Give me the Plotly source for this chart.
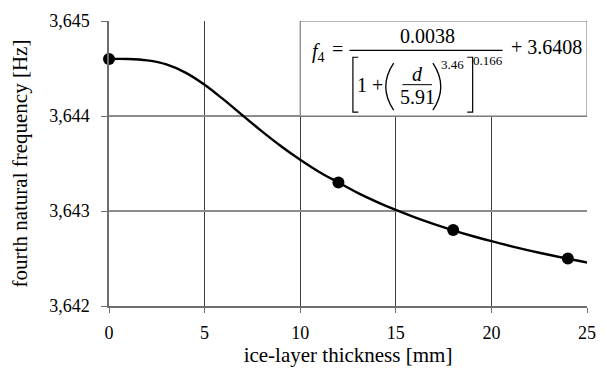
import plotly.graph_objects as go

# measured points
pt_x = [0, 12, 18, 24]
pt_y = [3.6446, 3.6433, 3.6428, 3.6425]

# fitted curve
cv_x = [0, 1, 2, 3, 4, 5, 6, 7, 8, 9, 10, 11, 12, 13, 14, 15, 16, 17, 18, 19, 20, 21, 22, 23, 24, 25]
cv_y = [3.64460, 3.64460, 3.644585, 3.644543, 3.644457, 3.644329, 3.644172, 3.644004, 3.643838,
        3.643682, 3.64354, 3.643411, 3.64330, 3.643191, 3.643097, 3.643011, 3.642933, 3.642862,
        3.642797, 3.642737, 3.642682, 3.642631, 3.642583, 3.642539, 3.642497, 3.642458]

x_ticks = [0, 5, 10, 15, 20, 25]
y_ticks = [3.642, 3.643, 3.644, 3.645]

W, H = 607, 371
L, R, T, B = 109, 11, 15, 65
PW, PH = W - L - R, H - T - B

def px(x, y):
    return (x - L) / PW, (H - B - y) / PH

FONT = "Liberation Serif"
XGRID = "#3c3c3c"
YGRID = "#8c8c8c"
AX = "#6e6e6e"

fig = go.Figure()
fig.add_trace(go.Scatter(x=cv_x, y=cv_y, mode="lines", line=dict(color="black", width=2.4, shape="spline"),
                         hoverinfo="skip", showlegend=False))
fig.add_trace(go.Scatter(x=pt_x, y=pt_y, mode="markers", marker=dict(color="black", size=12),
                         showlegend=False, cliponaxis=False))

shapes = []
# formula box
shapes.append(dict(type="rect", xref="x", yref="y", x0=10, x1=25, y0=3.644, y1=3.645,
                   fillcolor="white", line=dict(color=AX, width=1), layer="above"))

def line(xa, ya, xb, yb, w=1.2):
    a = px(xa, ya); b = px(xb, yb)
    shapes.append(dict(type="line", xref="paper", yref="paper", x0=a[0], y0=a[1], x1=b[0], y1=b[1],
                       line=dict(color="black", width=w), layer="above"))

def path(pts, w=1.2):
    s = ""
    for cmd, xx, yy in pts:
        p = px(xx, yy)
        s += f"{cmd}{p[0]},{p[1]} "
    shapes.append(dict(type="path", xref="paper", yref="paper", path=s.strip(),
                       line=dict(color="black", width=w), layer="above"))

# main fraction bar
line(354, 45, 510, 45, 1.1)
# small fraction bar
line(408, 80, 438, 80, 1.0)
# left bracket
path([("M", 363, 52), ("L", 357.5, 52), ("L", 357.5, 108), ("L", 363, 108)])
# right bracket
path([("M", 474, 52), ("L", 479.5, 52), ("L", 479.5, 108), ("L", 474, 108)])

# parentheses as curves
def paren(x_end, x_mid, y0, y1):
    p0 = px(x_end, y0); pm = px(x_mid, (y0 + y1) / 2); p1 = px(x_end, y1)
    shapes.append(dict(type="path", xref="paper", yref="paper",
                       path=f"M{p0[0]},{p0[1]} Q{2*pm[0]-(p0[0]+p1[0])/2},{pm[1]} {p1[0]},{p1[1]}",
                       line=dict(color="black", width=1.3), layer="above"))
paren(399, 391, 58, 106)
paren(439, 447, 58, 106)

ann = []
def text(t, x, y, size=20, xanchor="center"):
    p = px(x, y)
    ann.append(dict(text=t, x=p[0], y=p[1], xref="paper", yref="paper", showarrow=False,
                    xanchor=xanchor, yanchor="middle", font=dict(family=FONT, size=size, color="black")))

text("<i>f</i><sub>4</sub>", 314, 47, 20, "left")
text("=", 342, 44, 20)
text("0.0038", 434, 30, 20)
text("1 +", 375, 80, 20)
text("<i>d</i>", 423, 69, 20)
text("5.91", 423, 93, 20)
text("3.46", 459, 59, 13)
text("0.166", 495, 55, 13)
text("+ 3.6408", 555, 42, 20)

fig.update_layout(
    width=W, height=H, margin=dict(l=L, r=R, t=T, b=B),
    paper_bgcolor="white", plot_bgcolor="white",
    separators=",.",
    shapes=shapes, annotations=ann,
    font=dict(family=FONT, color="black"),
    xaxis=dict(range=[0, 25], tickvals=x_ticks, showgrid=True, gridcolor=XGRID, gridwidth=1,
               showline=True, linecolor=AX, linewidth=1.5, zeroline=False,
               ticks="outside", ticklen=5, tickcolor=AX, ticklabelstandoff=5,
               tickfont=dict(family=FONT, size=18, color="black"),
               title=dict(text="ice-layer thickness [mm]", font=dict(family=FONT, size=21, color="black"),
                          standoff=2)),
    yaxis=dict(range=[3.642, 3.645], tickvals=y_ticks, tickformat=".3f", showgrid=True, gridcolor=YGRID,
               gridwidth=1.5, showline=True, linecolor=AX, linewidth=1.5, zeroline=False,
               ticks="outside", ticklen=6, tickcolor=AX, ticklabelstandoff=8,
               tickfont=dict(family=FONT, size=18, color="black"),
               title=dict(text="fourth natural frequency [Hz]", font=dict(family=FONT, size=21, color="black"),
                          standoff=16)),
)

fig.write_html("out.html")
